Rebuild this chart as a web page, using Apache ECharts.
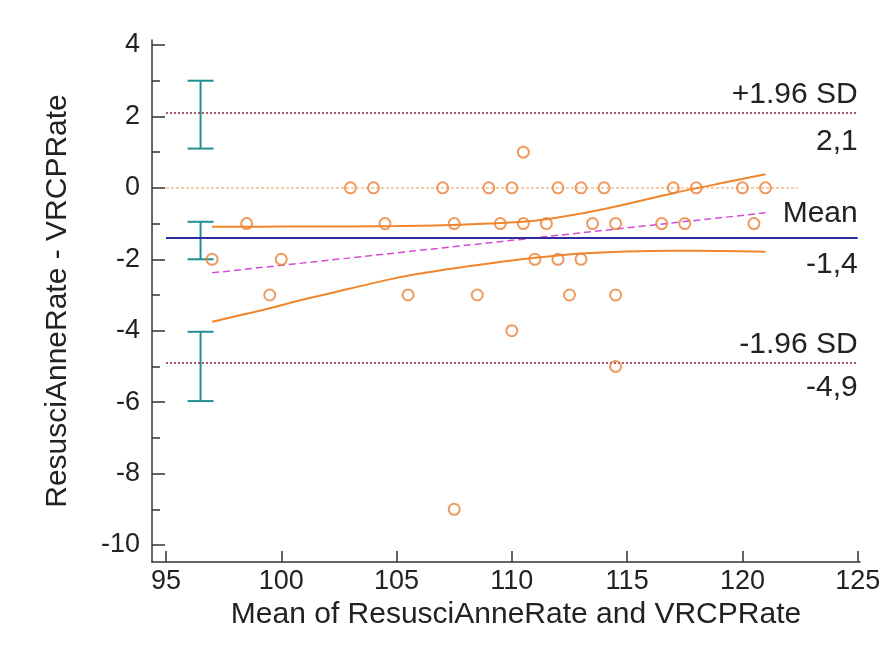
<!DOCTYPE html>
<html lang="en">
<head>
    <meta charset="UTF-8">
    <title>Bland-Altman</title>
    <script src="https://cdn.jsdelivr.net/npm/echarts@6.0.0/dist/echarts.min.js"></script>
</head>
<body style="margin:0">
<div id="chart" style="width: 896px;height:664px;"></div>

<script type="text/javascript">
    // mean of the two rates / difference between them
    var meanRate = [
        103, 104, 107, 109, 110, 112, 113, 114, 117, 118, 120, 121,
        110.5,
        98.5, 104.5, 107.5, 109.5, 110.5, 111.5, 113.5, 114.5, 116.5, 117.5, 120.5,
        97, 100, 111, 112, 113,
        99.5, 105.5, 108.5, 112.5, 114.5,
        110, 114.5, 107.5
    ];
    var diffRate = [
        0, 0, 0, 0, 0, 0, 0, 0, 0, 0, 0, 0,
        1,
        -1, -1, -1, -1, -1, -1, -1, -1, -1, -1, -1,
        -2, -2, -2, -2, -2,
        -3, -3, -3, -3, -3,
        -4, -5, -9
    ];

    var meanDiff = -1.4;
    var upperLimit = 2.1;
    var lowerLimit = -4.9;

    // confidence intervals drawn as error bars on the left
    var ciX = 96.5;
    var ciLow = [1.1, -2.0, -5.97];
    var ciHigh = [3.0, -0.95, -4.03];

    // regression line of differences
    var regX = [97, 121];
    var regY = [-2.38, -0.7];

    // confidence band of regression
    var bandX = [97, 99, 101, 103, 105, 107, 109, 111, 113, 115, 117, 119, 121];
    var bandUpper = [-1.09, -1.09, -1.08, -1.08, -1.07, -1.05, -1.0, -0.92, -0.72, -0.45, -0.15, 0.12, 0.38];
    var bandLower = [-3.75, -3.45, -3.12, -2.82, -2.52, -2.3, -2.12, -1.96, -1.84, -1.78, -1.76, -1.77, -1.79];

    var xTicks = [95, 100, 105, 110, 115, 120, 125];
    var yTicks = [-10, -8, -6, -4, -2, 0, 2, 4];
    var yMinorTicks = [-9, -7, -5, -3, -1, 1, 3];

    var font = 'Liberation Sans, Arial, sans-serif';
    var orange = '#e8823a';
    var teal = '#239090';

    var points = meanRate.map(function (m, i) { return [m, diffRate[i]]; });
    var ciData = ciLow.map(function (lo, i) { return [ciX, lo, ciHigh[i]]; });
    var zip = function (xs, ys) { return xs.map(function (x, i) { return [x, ys[i]]; }); };

    var myChart = echarts.init(document.getElementById('chart'));

    function refLine(v, color, type, width, top, bottom, dTop, dBottom) {
        return [
            [{
                coord: [95, v],
                lineStyle: {color: color, type: type, width: width},
                label: {show: true, position: 'insideEndTop', formatter: top, distance: [0, dTop]}
            }, {coord: [125, v]}],
            [{
                coord: [95, v],
                lineStyle: {color: 'rgba(0,0,0,0)', width: 0},
                label: {show: true, position: 'insideEndBottom', formatter: bottom, distance: [0, dBottom]}
            }, {coord: [125, v]}]
        ];
    }

    var option = {
        backgroundColor: '#ffffff',
        animation: false,
        textStyle: {fontFamily: font},
        grid: {left: 152, right: 36, top: 40, bottom: 102, outerBoundsMode: 'none'},
        xAxis: {
            type: 'value',
            min: 94.393,
            max: 125.1,
            name: 'Mean of ResusciAnneRate and VRCPRate',
            nameLocation: 'middle',
            nameGap: 33,
            nameTextStyle: {fontSize: 30, color: '#222', fontFamily: font, padding: [0, 0, 0, 20]},
            axisLine: {onZero: false, lineStyle: {color: '#333', width: 1.5}},
            axisTick: {inside: true, length: 11, customValues: xTicks, lineStyle: {color: '#333', width: 1.5}},
            axisLabel: {customValues: xTicks, fontSize: 27, color: '#222', margin: 6, fontFamily: font},
            splitLine: {show: false}
        },
        yAxis: [{
            type: 'value',
            min: -10.476,
            max: 4.14,
            name: 'ResusciAnneRate - VRCPRate',
            nameLocation: 'middle',
            nameGap: 79,
            nameTextStyle: {fontSize: 30, color: '#222', fontFamily: font},
            axisLine: {onZero: false, lineStyle: {color: '#333', width: 1.5}},
            axisTick: {inside: true, length: 13, customValues: yTicks, lineStyle: {color: '#333', width: 1.5}},
            axisLabel: {customValues: yTicks, fontSize: 27, color: '#222', margin: 12, fontFamily: font},
            splitLine: {show: false}
        }, {
            type: 'value',
            min: -10.476,
            max: 4.14,
            position: 'left',
            axisLine: {show: false, onZero: false},
            axisTick: {inside: true, length: 8, customValues: yMinorTicks, lineStyle: {color: '#333', width: 1.5}},
            axisLabel: {show: false, customValues: yMinorTicks},
            splitLine: {show: false}
        }],
        series: [
            {
                // zero line
                type: 'line',
                data: [[95, 0], [122.4, 0]],
                symbol: 'none',
                lineStyle: {color: '#f4b07a', width: 1.2, type: [3, 2]},
                z: 1
            },
            {
                type: 'line',
                data: [],
                markLine: {
                    silent: true,
                    symbol: 'none',
                    label: {fontSize: 30, color: '#222', fontFamily: font},
                    data: [].concat(
                        refLine(upperLimit, '#8a2434', [2, 2], 1.5, '+1.96 SD', '2,1', 3, 14),
                        refLine(meanDiff, '#2c2c9c', 'solid', 2, 'Mean', '-1,4', 9, 12),
                        refLine(lowerLimit, '#8a2434', [2, 2], 1.5, '-1.96 SD', '-4,9', 3, 10)
                    )
                },
                z: 2
            },
            {
                type: 'line',
                data: zip(regX, regY),
                symbol: 'none',
                lineStyle: {color: '#d64ad6', width: 1.5, type: [7, 4]},
                z: 3
            },
            {
                type: 'line',
                data: zip(bandX, bandUpper),
                symbol: 'none',
                smooth: 0.3,
                lineStyle: {color: '#f0862c', width: 2},
                z: 3
            },
            {
                type: 'line',
                data: zip(bandX, bandLower),
                symbol: 'none',
                smooth: 0.3,
                lineStyle: {color: '#f0862c', width: 2},
                z: 3
            },
            {
                type: 'custom',
                data: ciData,
                encode: {x: 0, y: [1, 2]},
                renderItem: function (params, api) {
                    var lo = api.coord([api.value(0), api.value(1)]);
                    var hi = api.coord([api.value(0), api.value(2)]);
                    var w = 13;
                    var st = {stroke: teal, lineWidth: 2};
                    return {
                        type: 'group',
                        children: [
                            {type: 'line', shape: {x1: lo[0], y1: lo[1], x2: hi[0], y2: hi[1]}, style: st},
                            {type: 'line', shape: {x1: lo[0] - w, y1: lo[1], x2: lo[0] + w, y2: lo[1]}, style: st},
                            {type: 'line', shape: {x1: hi[0] - w, y1: hi[1], x2: hi[0] + w, y2: hi[1]}, style: st}
                        ]
                    };
                },
                z: 4
            },
            {
                type: 'scatter',
                data: points,
                symbol: 'circle',
                symbolSize: 11,
                itemStyle: {color: 'rgba(255,255,255,0)', borderColor: orange, borderWidth: 2},
                z: 5
            }
        ]
    };

    myChart.setOption(option);
</script>
</body>
</html>
